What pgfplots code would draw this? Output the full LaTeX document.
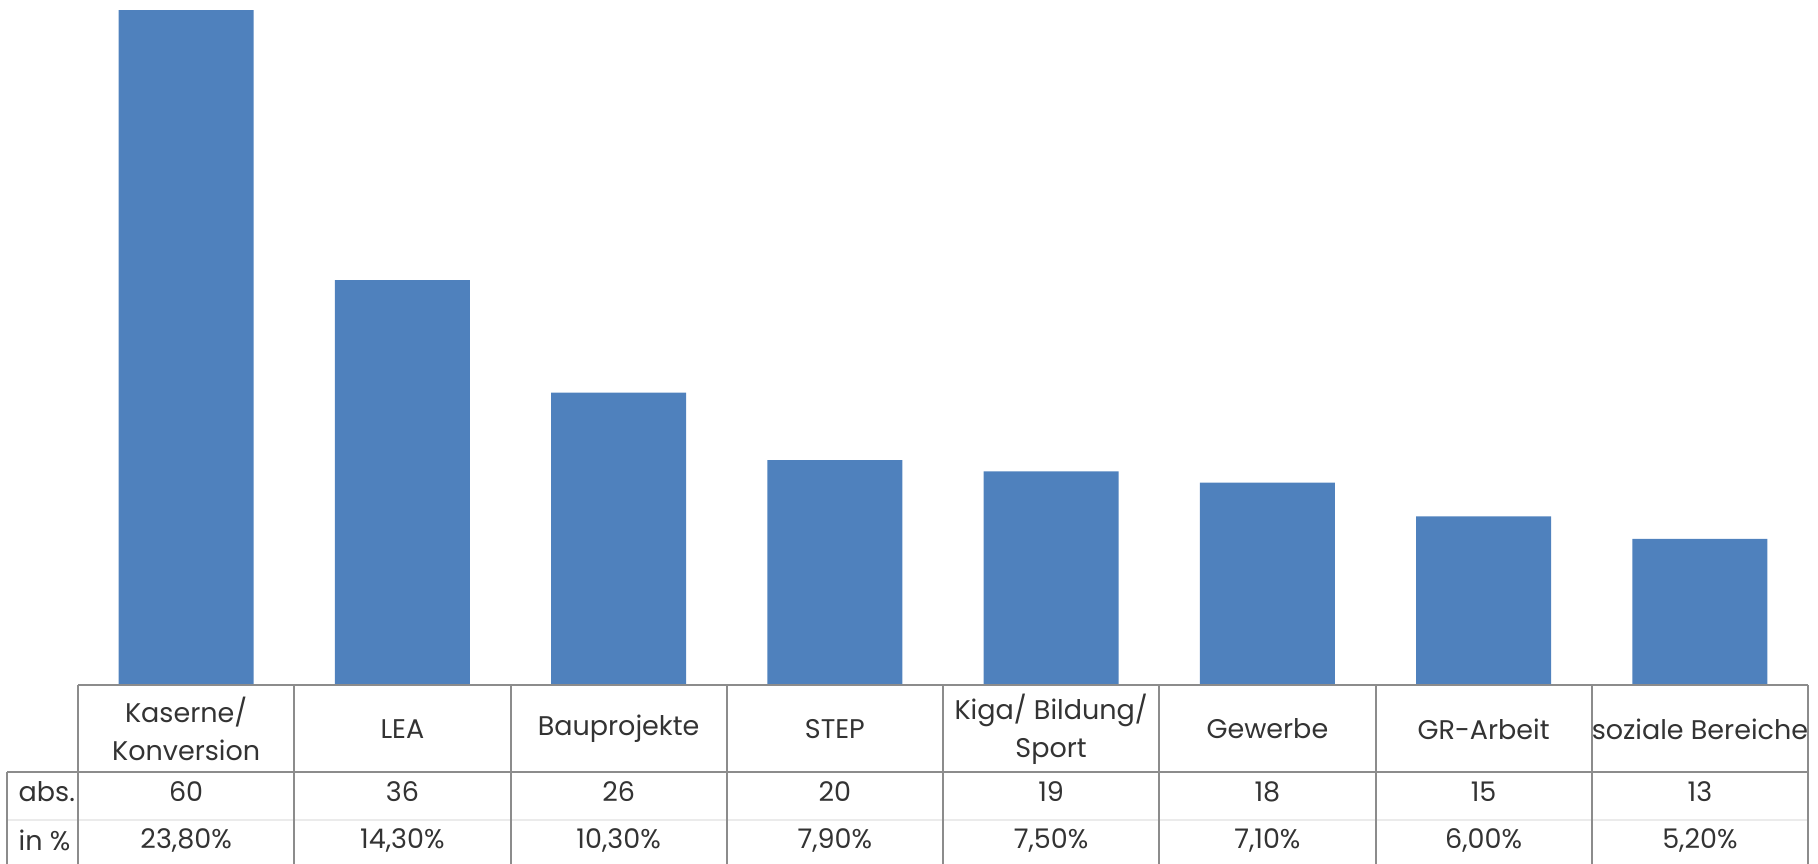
\documentclass[border=0pt]{standalone}
\usepackage{pgfplots}
\pgfplotsset{compat=1.18}
\usepackage{fontspec}
\setmainfont{Poppins}
\definecolor{barblue}{HTML}{4F81BD}
\definecolor{linegray}{HTML}{8C8C8C}
\begin{document}
\begin{tikzpicture}[x=0.4pt,y=0.4pt]
\path[use as bounding box] (-78,-178) rectangle (1740,685);
\begin{axis}[
  at={(0,0)}, anchor=south west,
  scale only axis, width=692pt, height=270pt,
  xmin=-0.5, xmax=7.5, ymin=0, ymax=60,
  axis line style={draw=none},
  ytick=\empty,
  xtick=data,
  major tick length=0pt,
  xticklabels={{Kaserne/\\Konversion},LEA,Bauprojekte,STEP,{Kiga/ Bildung/\\Sport},Gewerbe,GR-Arbeit,soziale Bereiche},
  xticklabel style={align=center, anchor=center, yshift=-17.6pt, font=\fontsize{10.8}{15.2}\selectfont, text=black!80},
  clip=false,
  ybar, bar width=54pt,
]
\addplot[fill=barblue, draw=none] coordinates {(0,60) (1,36) (2,26) (3,20) (4,19) (5,18) (6,15) (7,13)};
% table lines
\draw[black!8, line width=0.5pt] (axis cs:-0.828,-12.0) -- (axis cs:7.5,-12.0);
\draw[linegray, line width=0.8pt] (axis cs:-0.5,0) -- (axis cs:7.5,0);
\draw[linegray, line width=0.8pt] (axis cs:-0.828,-7.73) -- (axis cs:7.5,-7.73);
\draw[linegray, line width=0.8pt] (axis cs:-0.828,-7.73) -- (axis cs:-0.828,-17);
\draw[linegray, line width=0.8pt] (axis cs:-0.5,0) -- (axis cs:-0.5,-17);
\draw[linegray, line width=0.8pt] (axis cs:0.5,0) -- (axis cs:0.5,-17);
\draw[linegray, line width=0.8pt] (axis cs:1.5,0) -- (axis cs:1.5,-17);
\draw[linegray, line width=0.8pt] (axis cs:2.5,0) -- (axis cs:2.5,-17);
\draw[linegray, line width=0.8pt] (axis cs:3.5,0) -- (axis cs:3.5,-17);
\draw[linegray, line width=0.8pt] (axis cs:4.5,0) -- (axis cs:4.5,-17);
\draw[linegray, line width=0.8pt] (axis cs:5.5,0) -- (axis cs:5.5,-17);
\draw[linegray, line width=0.8pt] (axis cs:6.5,0) -- (axis cs:6.5,-17);
\draw[linegray, line width=0.8pt] (axis cs:7.5,0) -- (axis cs:7.5,-17);
\begin{scope}[every node/.style={font=\fontsize{10.8}{15.2}\selectfont, text=black!80}]
\node[anchor=west] at (axis cs:-0.815,-9.51) {abs.};
\node[anchor=west] at (axis cs:-0.815,-13.78) {in \%};
\node at (axis cs:0,-9.51) {60};
\node at (axis cs:1,-9.51) {36};
\node at (axis cs:2,-9.51) {26};
\node at (axis cs:3,-9.51) {20};
\node at (axis cs:4,-9.51) {19};
\node at (axis cs:5,-9.51) {18};
\node at (axis cs:6,-9.51) {15};
\node at (axis cs:7,-9.51) {13};
\node at (axis cs:0,-13.78) {23,80\%};
\node at (axis cs:1,-13.78) {14,30\%};
\node at (axis cs:2,-13.78) {10,30\%};
\node at (axis cs:3,-13.78) {7,90\%};
\node at (axis cs:4,-13.78) {7,50\%};
\node at (axis cs:5,-13.78) {7,10\%};
\node at (axis cs:6,-13.78) {6,00\%};
\node at (axis cs:7,-13.78) {5,20\%};
\end{scope}
\end{axis}
\end{tikzpicture}
\end{document}
